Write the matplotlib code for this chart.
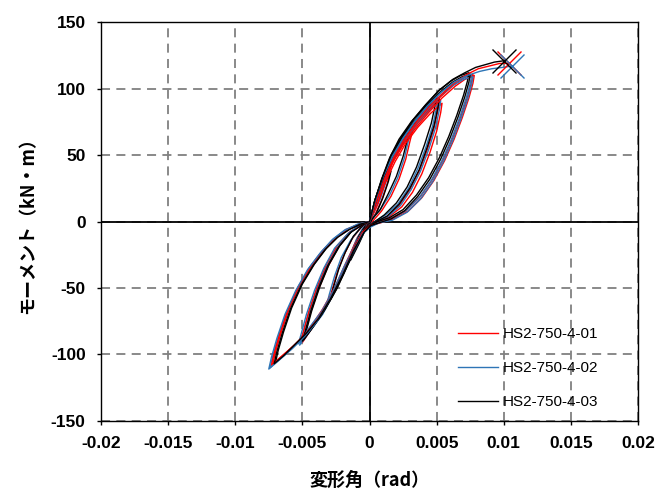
import matplotlib
matplotlib.use("Agg")
import matplotlib.pyplot as plt
import numpy as np

# rotation angle in 1e-3 rad, moment in kN*m (cycles at 1.5, 3, 5, 5, 7.5, 7.5 mrad, then push to failure)
RED_X = [
    0, 0.4, 0.9, 1.5, 1.3, 0.9, 0.4, 0, -0.4, -0.9, -1.5, -1.3, -0.9, -0.4, 0,
    0.5, 1.1, 1.8, 2.5, 3.2, 3.0, 2.7, 2.2, 1.6, 0.9, 0.3, 0, -0.4, -1.0, -1.7, -2.4, -3.0,
    -2.8, -2.4, -1.9, -1.3, -0.6, 0,
    0.5, 1.1, 1.8, 2.6, 3.5, 4.3, 5.2, 5.1, 4.8, 4.3, 3.7, 3.0, 2.2, 1.3, 0.5, 0,
    -0.4, -1.0, -1.7, -2.5, -3.4, -4.2, -5.0, -4.8, -4.4, -3.8, -3.1, -2.3, -1.4, -0.6, 0,
    0.6, 1.2, 1.9, 2.7, 3.6, 4.5, 5.4, 5.3, 5.0, 4.5, 3.9, 3.2, 2.4, 1.5, 0.6, 0,
    -0.4, -1.1, -1.8, -2.6, -3.5, -4.3, -5.1, -4.9, -4.5, -3.9, -3.2, -2.4, -1.5, -0.7, 0,
    0.5, 1.0, 1.6, 2.4, 3.3, 4.3, 5.3, 6.3, 7.0, 7.7, 7.6, 7.3, 6.8, 6.2, 5.5, 4.7, 3.8, 2.8, 1.7, 0.7, 0,
    -0.5, -1.2, -2.0, -2.9, -3.8, -4.7, -5.6, -6.5, -7.2, -7.0, -6.6, -6.0, -5.2, -4.3, -3.4, -2.5, -1.6, -0.7, 0,
    0.6, 1.1, 1.7, 2.5, 3.4, 4.4, 5.4, 6.4, 7.1, 7.8, 7.7, 7.4, 6.9, 6.3, 5.6, 4.8, 3.9, 2.9, 1.8, 0.8, 0.1,
    -0.5, -1.3, -2.1, -3.0, -3.9, -4.8, -5.7, -6.6, -7.3, -7.1, -6.7, -6.1, -5.3, -4.4, -3.5, -2.6, -1.7, -0.8, 0,
    0.5, 1.1, 1.8, 2.6, 3.5, 4.4, 5.4, 6.4, 7.3, 8.1, 8.9, 9.7, 10.4]
RED_Y = [
    0, 12, 25, 36, 28, 16, 5, -1, -7, -18, -30, -22, -12, -4, 0,
    15, 32, 47, 58, 68, 60, 47, 32, 19, 8, 1, -2, -6, -18, -33, -47, -60,
    -52, -38, -25, -13, -4, 0,
    14, 30, 46, 60, 73, 83, 91, 84, 70, 54, 38, 24, 12, 4, 0, -3,
    -6, -17, -33, -51, -67, -79, -91, -84, -69, -51, -34, -19, -8, -3, 0,
    14, 30, 45, 59, 71, 81, 89, 82, 68, 52, 36, 22, 11, 4, 0, -3,
    -6, -17, -32, -50, -66, -78, -89, -82, -67, -49, -32, -18, -8, -3, 0,
    14, 29, 45, 59, 71, 83, 94, 103, 108, 111, 105, 94, 79, 63, 47, 32, 19, 9, 3, 0, -3,
    -8, -22, -40, -58, -73, -84, -93, -101, -107, -98, -84, -66, -48, -33, -21, -12, -6, -2, 0,
    13, 28, 44, 58, 70, 82, 93, 102, 107, 110, 104, 93, 78, 62, 46, 31, 18, 8, 2, -1, -3,
    -8, -23, -41, -59, -74, -85, -94, -102, -108, -99, -85, -67, -49, -34, -22, -13, -6, -2, 0,
    15, 32, 48, 62, 75, 86, 96, 105, 111, 115, 117, 119, 119]

BLUE_X = [
    0, 0.4, 0.9, 1.4, 1.2, 0.8, 0.3, 0, -0.4, -1.0, -1.6, -1.4, -1.0, -0.5, 0,
    0.4, 1.0, 1.7, 2.4, 3.1, 2.9, 2.6, 2.1, 1.5, 0.8, 0.2, 0, -0.4, -1.0, -1.8, -2.6, -3.2,
    -3.0, -2.6, -2.1, -1.4, -0.7, 0,
    0.4, 1.0, 1.7, 2.5, 3.4, 4.2, 5.1, 5.0, 4.7, 4.2, 3.6, 2.9, 2.1, 1.2, 0.4, 0,
    -0.4, -1.0, -1.8, -2.6, -3.5, -4.4, -5.2, -5.0, -4.6, -4.0, -3.3, -2.5, -1.5, -0.7, 0,
    0.5, 1.1, 1.8, 2.6, 3.5, 4.4, 5.3, 5.2, 4.9, 4.4, 3.8, 3.1, 2.3, 1.4, 0.5, 0,
    -0.5, -1.1, -1.9, -2.7, -3.6, -4.5, -5.3, -5.1, -4.7, -4.1, -3.4, -2.6, -1.6, -0.8, 0,
    0.4, 0.9, 1.5, 2.3, 3.2, 4.2, 5.2, 6.2, 6.9, 7.6, 7.5, 7.2, 6.7, 6.1, 5.4, 4.6, 3.7, 2.7, 1.6, 0.6, 0,
    -0.5, -1.2, -2.1, -3.0, -3.9, -4.8, -5.7, -6.6, -7.4, -7.2, -6.8, -6.2, -5.4, -4.5, -3.6, -2.7, -1.8, -0.8, 0,
    0.5, 1.0, 1.6, 2.4, 3.3, 4.3, 5.3, 6.3, 7.0, 7.7, 7.6, 7.3, 6.8, 6.2, 5.5, 4.7, 3.8, 2.8, 1.7, 0.7, 0.1,
    -0.5, -1.3, -2.2, -3.1, -4.0, -4.9, -5.8, -6.7, -7.5, -7.3, -6.9, -6.3, -5.5, -4.6, -3.7, -2.8, -1.9, -0.9, 0,
    0.4, 1.0, 1.7, 2.5, 3.4, 4.3, 5.3, 6.3, 7.3, 8.2, 9.1, 9.9, 10.6]
BLUE_Y = [
    0, 13, 26, 37, 29, 17, 6, -2, -8, -20, -32, -24, -14, -5, 0,
    15, 33, 48, 59, 69, 61, 48, 33, 20, 9, 2, -2, -7, -19, -35, -50, -63,
    -55, -41, -27, -14, -5, 0,
    15, 32, 48, 62, 75, 85, 93, 86, 72, 56, 40, 25, 13, 5, 0, -3,
    -7, -19, -35, -53, -70, -82, -93, -86, -71, -53, -36, -21, -9, -3, 0,
    14, 31, 47, 61, 73, 83, 91, 84, 70, 54, 38, 24, 12, 4, 0, -3,
    -7, -18, -34, -52, -68, -80, -92, -85, -70, -52, -35, -20, -9, -3, 0,
    15, 30, 46, 60, 73, 85, 96, 104, 108, 110, 104, 93, 78, 62, 46, 31, 18, 8, 2, -1, -4,
    -9, -23, -42, -60, -75, -86, -95, -103, -110, -101, -87, -69, -51, -35, -23, -13, -6, -2, 0,
    14, 29, 45, 59, 72, 84, 95, 103, 107, 109, 103, 92, 77, 61, 45, 30, 17, 7, 1, -1, -4,
    -9, -24, -43, -61, -76, -87, -96, -104, -111, -102, -88, -70, -52, -36, -24, -14, -7, -2, 0,
    15, 33, 49, 63, 76, 87, 97, 105, 110, 113, 115, 116, 117]

BLACK_X = [
    0, 0.5, 1.0, 1.6, 1.4, 1.0, 0.5, 0, -0.3, -0.8, -1.4, -1.2, -0.8, -0.3, 0,
    0.4, 1.0, 1.7, 2.4, 3.0, 2.8, 2.5, 2.0, 1.4, 0.8, 0.2, 0, -0.3, -0.9, -1.6, -2.3, -2.9,
    -2.7, -2.3, -1.8, -1.2, -0.5, 0,
    0.4, 1.0, 1.6, 2.4, 3.2, 4.1, 5.0, 4.9, 4.6, 4.1, 3.5, 2.8, 2.0, 1.1, 0.4, 0,
    -0.3, -0.9, -1.6, -2.4, -3.3, -4.1, -4.9, -4.7, -4.3, -3.7, -3.0, -2.2, -1.3, -0.5, 0,
    0.5, 1.1, 1.8, 2.6, 3.4, 4.3, 5.2, 5.1, 4.8, 4.3, 3.7, 3.0, 2.2, 1.3, 0.5, 0,
    -0.4, -1.0, -1.7, -2.5, -3.4, -4.2, -5.0, -4.8, -4.4, -3.8, -3.1, -2.3, -1.4, -0.6, 0,
    0.4, 0.9, 1.5, 2.2, 3.1, 4.1, 5.1, 6.1, 6.8, 7.4, 7.3, 7.0, 6.5, 5.9, 5.2, 4.4, 3.5, 2.5, 1.5, 0.6, 0,
    -0.4, -1.1, -1.9, -2.8, -3.7, -4.6, -5.5, -6.3, -7.0, -6.8, -6.4, -5.8, -5.0, -4.1, -3.2, -2.3, -1.4, -0.6, 0,
    0.5, 1.0, 1.6, 2.3, 3.2, 4.2, 5.2, 6.2, 6.9, 7.5, 7.4, 7.1, 6.6, 6.0, 5.3, 4.5, 3.6, 2.6, 1.6, 0.7, 0.1,
    -0.4, -1.2, -2.0, -2.9, -3.8, -4.7, -5.6, -6.4, -7.1, -6.9, -6.5, -5.9, -5.1, -4.2, -3.3, -2.4, -1.5, -0.7, 0,
    0.4, 1.0, 1.6, 2.4, 3.3, 4.2, 5.2, 6.2, 7.1, 7.9, 8.6, 9.3, 10.0]
BLACK_Y = [
    0, 14, 27, 38, 30, 18, 6, -1, -6, -17, -29, -21, -11, -3, 0,
    16, 34, 49, 60, 69, 61, 49, 34, 21, 9, 2, -2, -5, -16, -31, -45, -58,
    -50, -36, -23, -11, -3, 0,
    16, 33, 49, 63, 76, 86, 95, 88, 74, 58, 41, 26, 14, 5, 0, -3,
    -5, -16, -32, -50, -66, -78, -89, -82, -67, -49, -32, -18, -7, -2, 0,
    15, 32, 48, 62, 74, 84, 93, 86, 72, 56, 39, 25, 13, 4, 0, -3,
    -6, -17, -33, -51, -67, -79, -90, -83, -68, -50, -33, -19, -8, -3, 0,
    16, 32, 48, 62, 75, 87, 98, 106, 110, 112, 106, 95, 80, 64, 48, 33, 20, 9, 3, 0, -3,
    -7, -21, -39, -57, -72, -83, -92, -100, -106, -97, -83, -65, -47, -32, -20, -11, -5, -2, 0,
    15, 31, 47, 61, 74, 86, 97, 105, 109, 111, 105, 94, 79, 63, 47, 32, 19, 8, 2, -1, -3,
    -8, -22, -40, -58, -73, -84, -93, -101, -107, -98, -84, -66, -48, -33, -21, -12, -6, -2, 0,
    16, 34, 50, 64, 77, 88, 99, 107, 112, 116, 118, 120, 121]

LABELS = ["HS2-750-4-01", "HS2-750-4-02", "HS2-750-4-03"]
COLORS = ["#FF0000", "#2E75B6", "#000000"]
X_TICKS = [-0.02, -0.015, -0.01, -0.005, 0, 0.005, 0.01, 0.015, 0.02]
X_TICK_LABELS = ["-0.02", "-0.015", "-0.01", "-0.005", "0", "0.005", "0.01", "0.015", "0.02"]
Y_TICKS = [-150, -100, -50, 0, 50, 100, 150]


def split_cycles(x, y):
    """Cut a record into cycles where it comes back to zero from the negative side."""
    cuts = [i for i in range(1, len(x)) if x[i] == 0 and x[i - 1] < 0]
    parts = []
    start = 0
    for c in cuts:
        parts.append((x[start:c + 1], y[start:c + 1]))
        start = c
    parts.append((x[start:], y[start:]))
    return parts


plt.rcParams["axes.unicode_minus"] = False
plt.rcParams["font.family"] = ["Liberation Sans", "Noto Sans CJK JP", "DejaVu Sans"]

fig = plt.figure(figsize=(6.64, 4.94), dpi=100)
ax = fig.add_axes([0.152, 0.148, 0.809, 0.807])

series = [(RED_X, RED_Y), (BLUE_X, BLUE_Y), (BLACK_X, BLACK_Y)]
handles = []
for idx, (xs, ys) in enumerate(series):
    x = np.array(xs) / 1000.0
    y = np.array(ys, dtype=float)
    # cycles of the three specimens are layered so that later cycles lie on top
    for k, (cx, cy) in enumerate(split_cycles(x, y)):
        line, = ax.plot(cx, cy, color=COLORS[idx], linewidth=1.0,
                        zorder=3 + 0.1 * k + 0.01 * idx)
        if k == 0:
            handles.append(line)
    # failure point at the end of the record
    ax.plot(x[-1], y[-1], marker="x", markersize=17, markeredgewidth=1.0,
            color=COLORS[idx], linestyle="None", zorder=4)

ax.set_xlim(-0.02, 0.02)
ax.set_ylim(-150, 150)
ax.set_xticks(X_TICKS)
ax.set_xticklabels(X_TICK_LABELS)
ax.set_yticks(Y_TICKS)

ax.grid(True, color="#808080", linestyle=(0, (5, 3.5)), linewidth=1.3, zorder=1)
ax.axhline(0, color="black", linewidth=1.3, zorder=2)
ax.axvline(0, color="black", linewidth=1.3, zorder=2)

for sp in ax.spines.values():
    sp.set_color("black")
    sp.set_linewidth(1.0)
    sp.set_zorder(5)
ax.tick_params(direction="out", length=3, width=1.0, pad=8)
for lab in ax.get_xticklabels() + ax.get_yticklabels():
    lab.set_fontsize(12.5)
    lab.set_fontweight("bold")

ax.set_xlabel("変形角（rad）", fontsize=13, fontweight="bold",
              family=["Noto Sans CJK JP", "DejaVu Sans"], labelpad=14)
ax.set_ylabel("モーメント（kN・m）", fontsize=13, fontweight="bold",
              family=["Noto Sans CJK JP", "DejaVu Sans"], labelpad=10)

ax.legend(handles=handles, labels=LABELS, loc="upper left", bbox_to_anchor=(0.665, 0.235),
          frameon=False, fontsize=11, handlelength=2.6, handletextpad=0.35,
          labelspacing=1.3, borderpad=0, borderaxespad=0)

fig.savefig("out.png", dpi=100)
